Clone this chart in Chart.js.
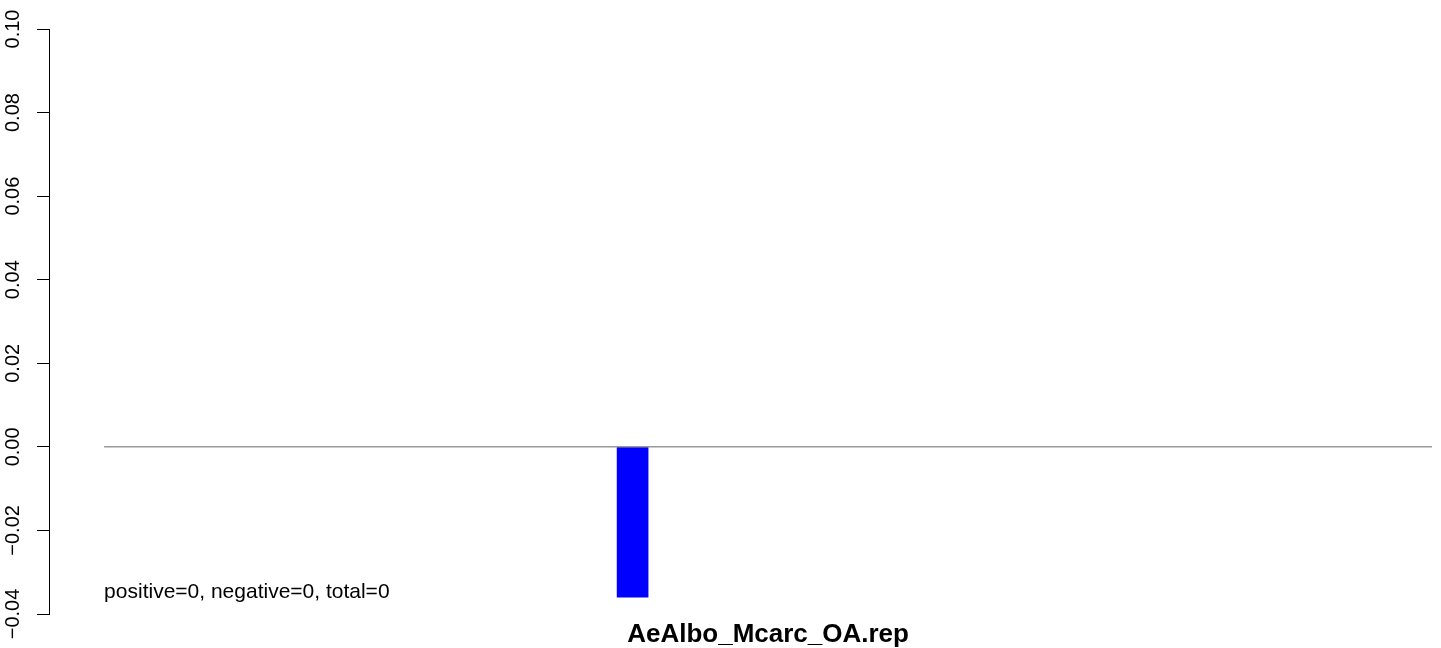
<!DOCTYPE html>
<html>
<head>
<meta charset="utf-8">
<script src="https://cdn.jsdelivr.net/npm/chart.js@4/dist/chart.umd.min.js"></script>
<style>
  html, body { margin: 0; padding: 0; background: #ffffff; }
  #wrap { position: relative; width: 1441px; height: 648px; }
</style>
</head>
<body>
<div id="wrap"><canvas id="c"></canvas></div>
<script>
// ---- data ----
const categories = ["AeAlbo_Mcarc_OA.rep"];
const categoryCenters = [0.5];
const barValues = [-0.036];
const barCenters = [0.398];
const baselineSpan = [0, 1];
const yTickValues = [-0.04, -0.02, 0.00, 0.02, 0.04, 0.06, 0.08, 0.10];
const countsText = "positive=0, negative=0, total=0";

const FONT = '"Liberation Sans", Arial, Helvetica, sans-serif';

const countsPlugin = {
  id: 'countsText',
  afterDatasetsDraw(chart) {
    const { ctx, scales } = chart;
    const x = scales.x.getPixelForValue(baselineSpan[0]);
    const y = scales.y.getPixelForValue(Math.min(...barValues)) + 1;
    ctx.save();
    ctx.font = '21px ' + FONT;
    ctx.fillStyle = '#000000';
    ctx.textAlign = 'left';
    ctx.textBaseline = 'alphabetic';
    ctx.fillText(countsText, x, y);
    ctx.restore();
  }
};

const fmt = v => {
  const s = Math.abs(v).toFixed(2);
  return (v < -1e-9 ? '\u2212' : '') + s;
};

new Chart(document.getElementById('c'), {
  type: 'bar',
  data: {
    datasets: [
      {
        type: 'line',
        data: baselineSpan.map(v => ({ x: v, y: 0 })),
        borderColor: '#999999',
        borderWidth: 1.5,
        pointRadius: 0,
        fill: false,
        order: 0
      },
      {
        type: 'bar',
        data: barCenters.map((c, i) => ({ x: c, y: barValues[i] })),
        backgroundColor: '#0000ff',
        borderWidth: 0,
        barThickness: 31,
        order: 1
      }
    ]
  },
  options: {
    responsive: true,
    maintainAspectRatio: false,
    animation: false,
    layout: { padding: { top: 29, right: 9, bottom: 0, left: 0 } },
    plugins: { legend: { display: false }, tooltip: { enabled: false }, title: { display: false } },
    scales: {
      x: {
        type: 'linear',
        offset: false,
        min: -0.0415,
        max: 1.0,
        grid: { display: false, drawTicks: false, offset: false },
        border: { display: false },
        afterBuildTicks: s => { s.ticks = categoryCenters.map(v => ({ value: v })); },
        afterFit: s => { s.height = 34; },
        ticks: {
          autoSkip: false,
          maxRotation: 0,
          minRotation: 0,
          padding: 5,
          color: '#000000',
          font: { family: FONT, size: 26, weight: 'bold' },
          callback: (v, i) => categories[i]
        }
      },
      y: {
        type: 'linear',
        min: -0.04,
        max: 0.10,
        afterBuildTicks: s => { s.ticks = yTickValues.map(v => ({ value: v })); },
        afterFit: s => { s.width = 49; },
        grid: { drawOnChartArea: false, drawTicks: true, tickLength: 12, color: '#000000', lineWidth: 1 },
        border: { display: true, color: '#000000', width: 1 },
        ticks: {
          minRotation: 90,
          maxRotation: 90,
          crossAlign: 'center',
          padding: -2,
          color: '#000000',
          font: { family: FONT, size: 20 },
          callback: v => fmt(v)
        }
      }
    }
  },
  plugins: [countsPlugin]
});
</script>
</body>
</html>
